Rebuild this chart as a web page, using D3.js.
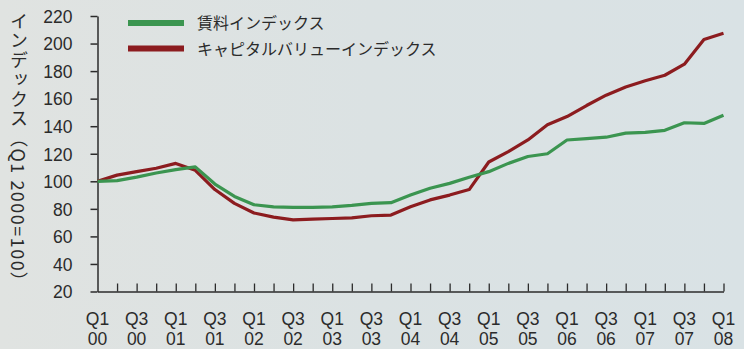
<!DOCTYPE html>
<html>
<head>
<meta charset="utf-8">
<script src="https://cdn.jsdelivr.net/npm/d3@7"></script>
<style>
  html, body { margin: 0; padding: 0; background: #dfe2e1; }
  svg { display: block; }
</style>
</head>
<body>
<svg id="chart" width="744" height="349"></svg>
<script>
// Quarterly index, Q1 2000 = 100
const quarters = [
  "Q1 00","Q2 00","Q3 00","Q4 00","Q1 01","Q2 01","Q3 01","Q4 01",
  "Q1 02","Q2 02","Q3 02","Q4 02","Q1 03","Q2 03","Q3 03","Q4 03",
  "Q1 04","Q2 04","Q3 04","Q4 04","Q1 05","Q2 05","Q3 05","Q4 05",
  "Q1 06","Q2 06","Q3 06","Q4 06","Q1 07","Q2 07","Q3 07","Q4 07","Q1 08"
];
const rentIndex = [
  100, 100.5, 103, 106, 108.5, 110.5, 98, 89,
  83, 81.5, 81, 81, 81.5, 82.5, 84, 84.5,
  90, 95, 98.5, 103, 107, 113, 118, 120,
  130, 131, 132, 135, 135.5, 137, 142.5, 142, 148
];
const capitalValueIndex = [
  100, 104.5, 107, 109.5, 113, 108, 94, 84,
  77, 74, 72, 72.5, 73, 73.5, 75, 75.5,
  81.5, 86.5, 90, 94, 114, 121.5, 130, 141,
  147, 155, 162.5, 168.5, 173, 177, 185, 203, 207.5
];
const yTicks = [20, 40, 60, 80, 100, 120, 140, 160, 180, 200, 220];
const seriesNames = ["賃料インデックス", "キャピタルバリューインデックス"];
const seriesColors = ["#3b9550", "#8c1c1f"];
const yTitle = "インデックス（Q1 2000=100）";

const svg = d3.select("#chart");

// soft tint across the page
const defs = svg.append("defs");
const grad = defs.append("linearGradient").attr("id", "bg").attr("x1", "0").attr("x2", "1");
grad.append("stop").attr("offset", "0").attr("stop-color", "#e0e3e1");
grad.append("stop").attr("offset", "0.5").attr("stop-color", "#dbe2e3");
grad.append("stop").attr("offset", "1").attr("stop-color", "#d9e2e5");
svg.append("rect").attr("width", 744).attr("height", 349).attr("fill", "url(#bg)");

const x = d3.scaleLinear().domain([0, quarters.length - 1]).range([97.5, 723.5]);
const y = d3.scaleLinear().domain([20, 220]).range([291.5, 16]);

const ink = "#2b2b2b";
const font = "'Liberation Sans', Arial, sans-serif";

// y axis
const yAxis = svg.append("g")
  .attr("transform", `translate(${x(0)},0)`)
  .call(d3.axisLeft(y).tickValues(yTicks).tickSize(7).tickSizeOuter(0).tickPadding(18));
yAxis.select(".domain").attr("stroke", ink).attr("stroke-width", 1.5);
yAxis.selectAll(".tick line").attr("stroke", ink).attr("stroke-width", 1.5);
yAxis.selectAll(".tick text")
  .attr("fill", ink).style("font-family", font).style("font-size", "17.5px")
  .attr("x", -25).attr("dy", "0.36em");

// x axis with inward ticks for every quarter
const idx = d3.range(quarters.length);
const xAxis = svg.append("g")
  .attr("transform", `translate(0,${y(20)})`)
  .call(d3.axisBottom(x).tickValues(idx.slice(1)).tickSize(-8).tickSizeOuter(0).tickFormat(""));
xAxis.select(".domain").attr("stroke", ink).attr("stroke-width", 1.5);
xAxis.selectAll(".tick line").attr("stroke", ink).attr("stroke-width", 1.3);

// two-line labels on every second quarter
const lab = svg.append("g").selectAll("text")
  .data(idx.filter(i => i % 2 === 0))
  .join("text")
  .attr("text-anchor", "middle")
  .attr("fill", ink)
  .style("font-family", font)
  .style("font-size", "17.5px");
lab.append("tspan").attr("x", i => x(i)).attr("y", 325).text(i => quarters[i].split(" ")[0]);
lab.append("tspan").attr("x", i => x(i)).attr("y", 345).text(i => quarters[i].split(" ")[1]);

// axis title, set vertically
svg.append("text")
  .attr("x", 19).attr("y", 12)
  .attr("fill", ink)
  .style("font-family", "'Noto Sans CJK JP', sans-serif")
  .style("font-size", "18px")
  .style("writing-mode", "vertical-rl")
  .style("text-orientation", "mixed")
  .style("letter-spacing", "1.5px")
  .text(yTitle);

// lines
const line = d3.line().x((d, i) => x(i)).y(d => y(d));
[rentIndex, capitalValueIndex].forEach((s, j) => {
  svg.append("path")
    .datum(s)
    .attr("fill", "none")
    .attr("stroke", seriesColors[j])
    .attr("stroke-width", 3.2)
    .attr("stroke-linejoin", "round")
    .attr("d", line);
});
// rent line sits on top
svg.selectAll("path").filter(function () { return this.getAttribute("stroke") === seriesColors[0]; }).raise();

// legend
const legend = svg.append("g");
seriesNames.forEach((name, j) => {
  const ly = 23 + j * 25.5;
  legend.append("line")
    .attr("x1", 128).attr("x2", 184).attr("y1", ly).attr("y2", ly)
    .attr("stroke", seriesColors[j]).attr("stroke-width", 6);
  legend.append("text")
    .attr("x", 197).attr("y", ly + 6)
    .attr("fill", ink)
    .style("font-family", "'Noto Sans CJK JP', sans-serif")
    .style("font-size", "16px")
    .text(name);
});
</script>
</body>
</html>
